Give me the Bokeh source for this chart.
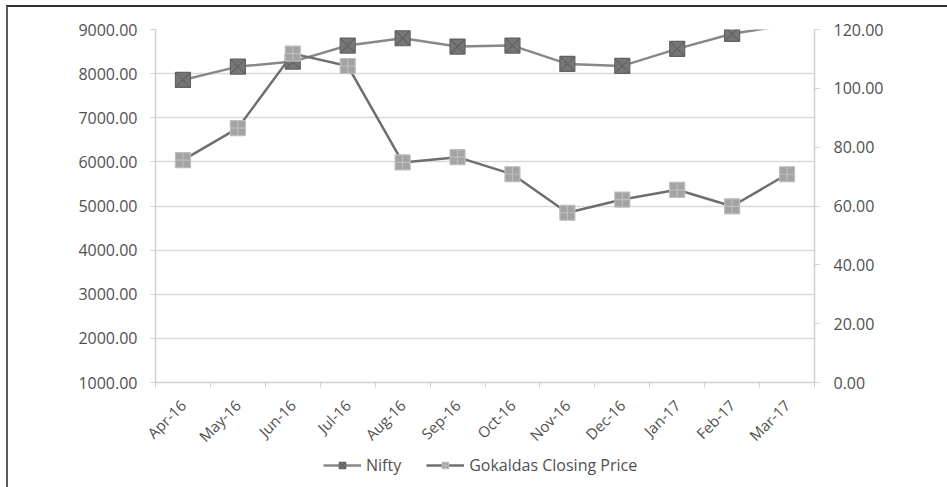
import math

from bokeh.plotting import figure
from bokeh.layouts import column
from bokeh.models import (ColumnDataSource, Range1d, LinearAxis, FixedTicker,
                          NumeralTickFormatter, Legend, LegendItem, CDSView,
                          BooleanFilter)
from bokeh.embed import file_html
from bokeh.resources import INLINE

# Monthly closing values, Apr 2016 - Mar 2017
months = ["Apr-16", "May-16", "Jun-16", "Jul-16", "Aug-16", "Sep-16",
          "Oct-16", "Nov-16", "Dec-16", "Jan-17", "Feb-17", "Mar-17"]
nifty = [7857, 8159, 8273, 8636, 8802, 8614, 8636, 8220, 8175, 8561, 8902, 9100]
gokaldas = [75.6, 86.5, 111.8, 107.6, 74.8, 76.6, 70.8, 57.7, 62.2, 65.5, 59.9, 70.8]

nifty_ticks = [1000, 2000, 3000, 4000, 5000, 6000, 7000, 8000, 9000]
price_ticks = [0, 20, 40, 60, 80, 100, 120]
series_names = ["Nifty", "Gokaldas Closing Price"]

FONT = "Open Sans"
TEXT = "#505050"
AXIS = "#d0d0d0"

NIFTY_LINE = dict(line_color="#888888", line_width=2.5)
NIFTY_MARK = dict(marker="square_x", size=15, fill_color="#767676",
                  line_color="#626262", line_width=1.2)
PRICE_LINE = dict(line_color="#6e6e6e", line_width=2.5)
PRICE_MARK = dict(marker="square_cross", size=15, fill_color="#a3a3a3",
                  line_color="#bdbdbd", line_width=1.2)

xs = [i + 0.5 for i in range(len(months))]
src = ColumnDataSource(dict(x=xs, month=months, nifty=nifty, price=gokaldas))

p = figure(width=939, height=448, output_backend="svg", toolbar_location=None,
           x_range=Range1d(0, len(months)),
           y_range=Range1d(nifty_ticks[0], nifty_ticks[-1]),
           min_border_left=147, min_border_right=133,
           min_border_top=22, min_border_bottom=73)
p.extra_y_ranges = {"price": Range1d(price_ticks[0], price_ticks[-1])}
p.outline_line_color = None
p.background_fill_color = "white"
p.border_fill_color = "white"

# horizontal gridlines only
p.xgrid.grid_line_color = None
p.ygrid.ticker = FixedTicker(ticks=nifty_ticks)
p.ygrid.grid_line_color = "#d9d9d9"
p.ygrid.grid_line_width = 1.5

# category axis: labels at month centres, ticks at month boundaries
xa = p.xaxis[0]
xa.ticker = FixedTicker(ticks=xs, minor_ticks=list(range(len(months) + 1)))
xa.major_label_overrides = {x: m for x, m in zip(xs, months)}
xa.major_label_orientation = math.pi / 4
xa.major_tick_out = 0
xa.major_tick_in = 0
xa.minor_tick_out = 5
xa.minor_tick_in = 0
xa.minor_tick_line_color = AXIS
xa.axis_line_color = AXIS
xa.axis_line_width = 1.5
xa.major_label_standoff = 15
xa.major_label_text_font = FONT
xa.major_label_text_font_size = "15px"
xa.major_label_text_color = TEXT

ya = p.yaxis[0]
ya.ticker = FixedTicker(ticks=nifty_ticks)
ya.formatter = NumeralTickFormatter(format="0.00")
ya.major_tick_out = 5
ya.major_tick_in = 0
ya.minor_tick_line_color = None
ya.major_tick_line_color = AXIS
ya.axis_line_color = AXIS
ya.axis_line_width = 1.5
ya.major_label_standoff = 13
ya.major_label_text_font = FONT
ya.major_label_text_font_size = "16px"
ya.major_label_text_color = TEXT

ra = LinearAxis(y_range_name="price", ticker=FixedTicker(ticks=price_ticks),
                formatter=NumeralTickFormatter(format="0.00"))
ra.major_tick_out = 5
ra.major_tick_in = 0
ra.minor_tick_line_color = None
ra.major_tick_line_color = AXIS
ra.axis_line_color = AXIS
ra.axis_line_width = 1.5
ra.major_label_standoff = 14
ra.major_label_text_font = FONT
ra.major_label_text_font_size = "16px"
ra.major_label_text_color = TEXT
p.add_layout(ra, "right")

# Nifty on the left scale; markers only where the value lies inside the axis
in_range = CDSView(filter=BooleanFilter([v <= nifty_ticks[-1] for v in nifty]))
p.line("x", "nifty", source=src, **NIFTY_LINE)
p.scatter("x", "nifty", source=src, view=in_range, **NIFTY_MARK)

# Gokaldas closing price on the right scale
p.line("x", "price", source=src, y_range_name="price", **PRICE_LINE)
p.scatter("x", "price", source=src, y_range_name="price", **PRICE_MARK)

# legend strip underneath the chart; the swatch renderers sit outside its
# ranges so only their legend icons are drawn
leg = figure(width=939, height=32, output_backend="svg", toolbar_location=None,
             x_range=Range1d(0, 1), y_range=Range1d(0, 1),
             min_border=0, outline_line_color=None)
leg.axis.visible = False
leg.grid.visible = False
offscreen = ColumnDataSource(dict(x=[-5, -4], y=[-5, -5]))
sw = [(leg.line("x", "y", source=offscreen, **NIFTY_LINE),
       leg.scatter("x", "y", source=offscreen, **NIFTY_MARK)),
      (leg.line("x", "y", source=offscreen, **PRICE_LINE),
       leg.scatter("x", "y", source=offscreen, **PRICE_MARK))]
legend = Legend(items=[LegendItem(label=name, renderers=list(r))
                       for name, r in zip(series_names, sw)],
                location=(168, 11), orientation="horizontal",
                glyph_width=38, glyph_height=16, label_height=20,
                label_standoff=5, spacing=25, padding=0, margin=0,
                border_line_color=None, background_fill_alpha=0,
                label_text_font=FONT, label_text_font_size="16px",
                label_text_color=TEXT)
leg.add_layout(legend)

page = column(p, leg, spacing=0)
page.styles = {"margin-left": "6px", "margin-top": "5px",
               "border-left": "2px solid #5a5a5a",
               "border-top": "2px solid #303030"}

open("out.html", "w").write(file_html(page, INLINE))
